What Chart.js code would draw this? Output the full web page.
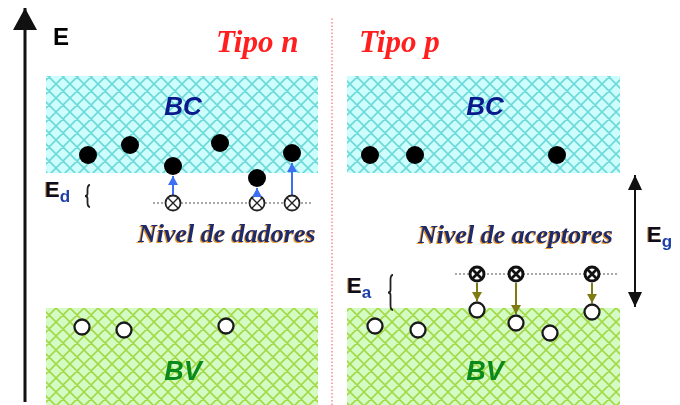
<!DOCTYPE html>
<html>
<head>
<meta charset="utf-8">
<script src="https://cdn.jsdelivr.net/npm/chart.js@4.4.1/dist/chart.umd.min.js"></script>
<style>
html, body { margin: 0; padding: 0; background: #fff; }
</style>
</head>
<body>
<canvas id="bands" width="680" height="405"></canvas>
<script>
// DATA  (x = position across the sample, y = energy, diagram units)
const bandSpanN = [46, 318];          // Tipo n band width
const bandSpanP = [347, 620];         // Tipo p band width
const conductionBand = [232, 329];    // BC bottom, top
const valenceBand = [0, 97];          // BV bottom, top

const electronsNX = [88, 130, 173, 220, 257, 292];
const electronsNE = [250, 260, 239, 262, 227, 252];
const electronsPX = [370, 415, 557];
const electronsPE = [250, 250, 250];

const holesNX = [82, 124, 226];
const holesNE = [78, 75, 79];
const holesPX = [375, 418, 477, 516, 550, 592];
const holesPE = [79, 75, 95, 82, 72, 93];

const donorX = [173, 257, 292];
const donorLevel = 202;
const donorLine = [153, 313];
const donorJumpTo = [229, 217, 242];

const acceptorX = [477, 516, 592];
const acceptorLevel = 131;
const acceptorLine = [455, 617];
const acceptorJumpTo = [104, 91, 102];

const energyAxis = [25, 3, 397];      // x, from, to
const gapArrow = [635, 98, 230];      // x, from (BV top), to (BC bottom)
const divider = [332, 0, 388];

// TEXT
const labels = [
  { t: "E", x: 53, y: 360, font: "bold 24px 'Liberation Sans'", c: "#000" },
  { t: "Tipo n", x: 216, y: 353, font: "bold italic 31px 'Liberation Serif'", c: "#ff1f1f" },
  { t: "Tipo p", x: 359, y: 353, font: "bold italic 31px 'Liberation Serif'", c: "#ff1f1f" },
  { t: "BC", x: 183, y: 290, font: "bold italic 26px 'Liberation Sans'", c: "#0a1a8c", align: "center" },
  { t: "BC", x: 485, y: 290, font: "bold italic 26px 'Liberation Sans'", c: "#0a1a8c", align: "center" },
  { t: "BV", x: 183, y: 25, font: "bold italic 27px 'Liberation Sans'", c: "#0a8a1a", align: "center" },
  { t: "BV", x: 485, y: 25, font: "bold italic 27px 'Liberation Sans'", c: "#0a8a1a", align: "center" },
  { t: "Nivel de dadores", x: 138, y: 163, font: "bold italic 26px 'Liberation Serif'", c: "#1c2a6e", shadow: "#e8962a" },
  { t: "Nivel de aceptores", x: 418, y: 162, font: "bold italic 26px 'Liberation Serif'", c: "#1c2a6e", shadow: "#e8962a" }
];
const subLabels = [
  { t: "E", s: "d", x: 45, y: 208 },
  { t: "E", s: "a", x: 347, y: 112 },
  { t: "E", s: "g", x: 647, y: 163 }
];
const braces = [
  { x: 85, from: 198, to: 220 },
  { x: 388, from: 95, to: 130 }
];

// helpers
function pts(xs, ys) {
  return xs.map((x, i) => ({ x: x, y: Array.isArray(ys) ? ys[i] : ys }));
}

function hatch(bg, line) {
  const c = document.createElement("canvas");
  c.width = 14; c.height = 14;
  const g = c.getContext("2d");
  g.fillStyle = bg;
  g.fillRect(0, 0, 14, 14);
  g.strokeStyle = line;
  g.lineWidth = 1.7;
  g.beginPath();
  for (const o of [-14, 0, 14]) {
    g.moveTo(o, 0); g.lineTo(o + 14, 14);
    g.moveTo(o + 14, 0); g.lineTo(o, 14);
  }
  g.stroke();
  return g.createPattern(c, "repeat");
}

function crossSymbol(acceptor) {
  const c = document.createElement("canvas");
  c.width = 20; c.height = 20;
  const g = c.getContext("2d");
  g.translate(10, 10);
  if (acceptor) {
    g.fillStyle = "#111";
    g.beginPath(); g.arc(0, 0, 8.5, 0, Math.PI * 2); g.fill();
    g.fillStyle = "#fff";
    g.beginPath(); g.arc(0, 0, 5.5, 0, Math.PI * 2); g.fill();
    g.strokeStyle = "#111"; g.lineWidth = 2.8;
  } else {
    g.fillStyle = "#fff";
    g.beginPath(); g.arc(0, 0, 7.5, 0, Math.PI * 2); g.fill();
    g.strokeStyle = "#222"; g.lineWidth = 1.8;
    g.stroke();
    g.lineWidth = 1.4;
  }
  g.beginPath();
  g.moveTo(-5, -5); g.lineTo(5, 5);
  g.moveTo(5, -5); g.lineTo(-5, 5);
  g.stroke();
  return c;
}

const ctx = document.getElementById("bands").getContext("2d");
const cyan = hatch("#cdfdfd", "#6fd9d9");
const green = hatch("#d3fcc4", "#a6d94a");

function band(span, range, fillStyle) {
  return {
    data: pts(span, range[1]),
    fill: { value: range[0] },
    backgroundColor: fillStyle,
    borderWidth: 0,
    pointRadius: 0,
    order: 20
  };
}

function line(x0, x1, y0, y1, color, width, dash, heads, order) {
  return {
    data: [{ x: x0, y: y0 }, { x: x1, y: y1 }],
    borderColor: color,
    borderWidth: width,
    borderDash: dash || [],
    pointRadius: 0,
    fill: false,
    heads: heads,
    order: order || 10
  };
}

const datasets = [
  band(bandSpanN, conductionBand, cyan),
  band(bandSpanP, conductionBand, cyan),
  band(bandSpanN, valenceBand, green),
  band(bandSpanP, valenceBand, green),
  line(divider[0], divider[0], divider[1], divider[2], "#ff8a8a", 1.5, [1.5, 2]),
  line(donorLine[0], donorLine[1], donorLevel, donorLevel, "#a8a8a8", 2, [2, 2]),
  line(acceptorLine[0], acceptorLine[1], acceptorLevel, acceptorLevel, "#a8a8a8", 2, [2, 2]),
  line(energyAxis[0], energyAxis[0], energyAxis[1], energyAxis[2], "#111", 3, null, { end: [22, 12] }),
  line(gapArrow[0], gapArrow[0], gapArrow[1], gapArrow[2], "#111", 2, null, { start: [15, 7], end: [15, 7] })
];

donorX.forEach((x, i) => {
  datasets.push(line(x, x, donorLevel + 8, donorJumpTo[i], "#3d6ff2", 2, null, { end: [9, 5] }, 8));
});
acceptorX.forEach((x, i) => {
  datasets.push(line(x, x, acceptorLevel - 9, acceptorJumpTo[i], "#7f7a12", 2, null, { end: [9, 5] }, 8));
});

datasets.push({
  data: pts(electronsNX, electronsNE).concat(pts(electronsPX, electronsPE)),
  showLine: false, pointRadius: 9, pointBackgroundColor: "#000", pointBorderWidth: 0, order: 1
});
datasets.push({
  data: pts(holesNX, holesNE).concat(pts(holesPX, holesPE)),
  showLine: false, pointRadius: 7.5, pointBackgroundColor: "#fff",
  pointBorderColor: "#1a1a1a", pointBorderWidth: 2.3, order: 1
});
datasets.push({
  data: pts(donorX, donorLevel),
  showLine: false, pointStyle: crossSymbol(false), order: 2
});
datasets.push({
  data: pts(acceptorX, acceptorLevel),
  showLine: false, pointStyle: crossSymbol(true), order: 2
});

// arrow heads at the ends of flagged line datasets
const arrowHeads = {
  id: "arrowHeads",
  afterDatasetsDraw(chart) {
    const c = chart.ctx;
    chart.data.datasets.forEach((ds, i) => {
      if (!ds.heads) return;
      const p = chart.getDatasetMeta(i).data;
      const draw = (tip, from, size) => {
        const a = Math.atan2(tip.y - from.y, tip.x - from.x);
        c.save();
        c.translate(tip.x, tip.y);
        c.rotate(a);
        c.fillStyle = ds.borderColor;
        c.beginPath();
        c.moveTo(0, 0);
        c.lineTo(-size[0], -size[1]);
        c.lineTo(-size[0], size[1]);
        c.closePath();
        c.fill();
        c.restore();
      };
      if (ds.heads.end) draw(p[1], p[0], ds.heads.end);
      if (ds.heads.start) draw(p[0], p[1], ds.heads.start);
    });
  }
};

// text, subscripts and braces placed through the scales
const annotations = {
  id: "annotations",
  afterDatasetsDraw(chart) {
    const c = chart.ctx;
    const sx = chart.scales.x, sy = chart.scales.y;
    c.save();
    c.textBaseline = "alphabetic";
    labels.forEach(l => {
      const x = sx.getPixelForValue(l.x), y = sy.getPixelForValue(l.y);
      c.font = l.font;
      c.textAlign = l.align || "left";
      if (l.shadow) {
        c.fillStyle = l.shadow;
        c.fillText(l.t, x - 1.2, y + 0.5);
      }
      c.fillStyle = l.c;
      c.fillText(l.t, x, y);
    });
    c.textAlign = "left";
    subLabels.forEach(l => {
      const x = sx.getPixelForValue(l.x), y = sy.getPixelForValue(l.y);
      c.font = "bold 22px 'Liberation Sans'";
      c.fillStyle = "#c8781e";
      c.fillText(l.t, x - 1, y);
      c.fillStyle = "#0d0d20";
      c.fillText(l.t, x, y);
      const w = c.measureText(l.t).width;
      c.font = "bold 17px 'Liberation Sans'";
      c.fillStyle = "#1f3fa8";
      c.fillText(l.s, x + w, y + 5);
    });
    c.strokeStyle = "#222";
    c.lineWidth = 1.8;
    braces.forEach(b => {
      const x = sx.getPixelForValue(b.x);
      const y0 = sy.getPixelForValue(b.to), y1 = sy.getPixelForValue(b.from);
      const ym = (y0 + y1) / 2, w = 5;
      c.beginPath();
      c.moveTo(x + w, y0);
      c.quadraticCurveTo(x + w / 2, y0, x + w / 2, y0 + w);
      c.lineTo(x + w / 2, ym - w / 2);
      c.quadraticCurveTo(x + w / 2, ym, x, ym);
      c.quadraticCurveTo(x + w / 2, ym, x + w / 2, ym + w / 2);
      c.lineTo(x + w / 2, y1 - w);
      c.quadraticCurveTo(x + w / 2, y1, x + w, y1);
      c.stroke();
    });
    c.restore();
  }
};

new Chart(ctx, {
  type: "line",
  data: { datasets: datasets },
  options: {
    responsive: false,
    animation: false,
    layout: { padding: 0, autoPadding: false },
    elements: { line: { tension: 0 } },
    datasets: { line: { clip: false } },
    plugins: { legend: { display: false }, tooltip: { enabled: false } },
    events: [],
    scales: {
      x: { type: "linear", min: 0, max: 680, display: false },
      y: { type: "linear", min: 0, max: 405, display: false }
    }
  },
  plugins: [arrowHeads, annotations]
});
</script>
</body>
</html>
